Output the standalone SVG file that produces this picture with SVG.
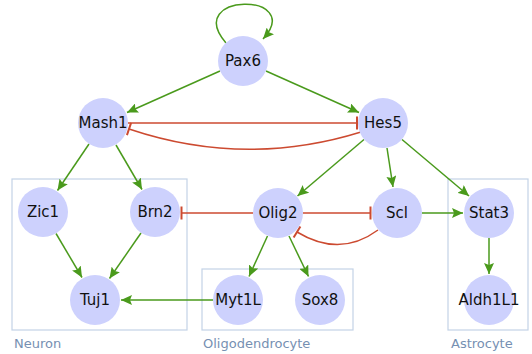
<svg xmlns="http://www.w3.org/2000/svg" width="532" height="354" viewBox="0 0 532 354">
<style>
.node circle{fill:#cdd1fd;stroke:none}
.node text{font-family:"DejaVu Sans",sans-serif;font-size:15px;fill:#111;text-anchor:middle;dominant-baseline:central}
.box rect{fill:none;stroke:#c3d3e6;stroke-width:1.2}
.box text{font-family:"DejaVu Sans",sans-serif;font-size:13px;fill:#7690b2}
.act{fill:none;stroke:#4a9a1c;stroke-width:1.5;marker-end:url(#arr)}
.inh{fill:none;stroke:#cc4a30;stroke-width:1.5;marker-end:url(#bar)}
</style>
<defs>
<marker id="arr" markerUnits="userSpaceOnUse" markerWidth="11" markerHeight="10" viewBox="0 0 11 10" refX="11" refY="5" orient="auto">
<path d="M0,0 L11,5 L0,10 L2,5 z" fill="#4a9a1c"/>
</marker>
<marker id="bar" markerUnits="userSpaceOnUse" markerWidth="4" markerHeight="16" viewBox="-2 -8 4 16" refX="0" refY="0" orient="auto">
<line x1="0" y1="-6.5" x2="0" y2="6.5" stroke="#cc4a30" stroke-width="2"/>
</marker>
</defs>
<g id="groups">
<g class="box" id="neuron"><rect x="12" y="179" width="175" height="151"/><text x="14" y="348">Neuron</text></g>
<g class="box" id="oligodendrocyte"><rect x="202" y="269" width="151" height="61"/><text x="203" y="348">Oligodendrocyte</text></g>
<g class="box" id="astrocyte"><rect x="448" y="179" width="80" height="151"/><text x="451" y="348">Astrocyte</text></g>
</g>
<g id="connectors">
<path class="act" d="M226,43 C182,-8 306,-8 263,39"/>
<line class="act" x1="220" y1="71" x2="127" y2="112.5"/>
<line class="act" x1="266" y1="71" x2="359" y2="112.5"/>
<line class="act" x1="89" y1="144" x2="57.5" y2="190.5"/>
<line class="act" x1="116" y1="145" x2="142" y2="189.5"/>
<line class="act" x1="56" y1="233.5" x2="82" y2="277.5"/>
<line class="act" x1="141" y1="233" x2="109.5" y2="278.5"/>
<line class="act" x1="364" y1="139.5" x2="297.5" y2="196"/>
<line class="act" x1="387" y1="148" x2="393" y2="187"/>
<line class="act" x1="402" y1="139.5" x2="469" y2="196"/>
<line class="act" x1="422" y1="213" x2="463" y2="213"/>
<line class="act" x1="489" y1="238" x2="489" y2="274"/>
<line class="act" x1="267.5" y1="236" x2="249" y2="276.5"/>
<line class="act" x1="289" y1="236" x2="308.5" y2="276.5"/>
<line class="act" x1="213" y1="300" x2="121" y2="300"/>
<line class="inh" x1="128" y1="123" x2="357" y2="123"/>
<path class="inh" d="M361,132 Q245,168 129,129"/>
<line class="inh" x1="253" y1="213" x2="181.5" y2="213"/>
<line class="inh" x1="303" y1="213" x2="370.5" y2="213"/>
<path class="inh" d="M378,230 Q340,258 297,232"/>
</g>
<g class="node" id="Pax6"><circle cx="243" cy="61" r="25"/><text x="243" y="61">Pax6</text></g>
<g class="node" id="Mash1"><circle cx="103" cy="123" r="25"/><text x="103" y="123">Mash1</text></g>
<g class="node" id="Hes5"><circle cx="383" cy="123" r="25"/><text x="383" y="123">Hes5</text></g>
<g class="node" id="Zic1"><circle cx="43" cy="212" r="25"/><text x="43" y="212">Zic1</text></g>
<g class="node" id="Brn2"><circle cx="155" cy="212" r="25"/><text x="155" y="212">Brn2</text></g>
<g class="node" id="Olig2"><circle cx="278" cy="213" r="25"/><text x="278" y="213">Olig2</text></g>
<g class="node" id="Scl"><circle cx="397" cy="213" r="25"/><text x="397" y="213">Scl</text></g>
<g class="node" id="Stat3"><circle cx="489" cy="213" r="25"/><text x="489" y="213">Stat3</text></g>
<g class="node" id="Tuj1"><circle cx="95" cy="300" r="25"/><text x="95" y="300">Tuj1</text></g>
<g class="node" id="Myt1L"><circle cx="238" cy="300" r="25"/><text x="238" y="300">Myt1L</text></g>
<g class="node" id="Sox8"><circle cx="320" cy="300" r="25"/><text x="320" y="300">Sox8</text></g>
<g class="node" id="Aldh1L1"><circle cx="489" cy="300" r="25"/><text x="489" y="300">Aldh1L1</text></g>
</svg>
